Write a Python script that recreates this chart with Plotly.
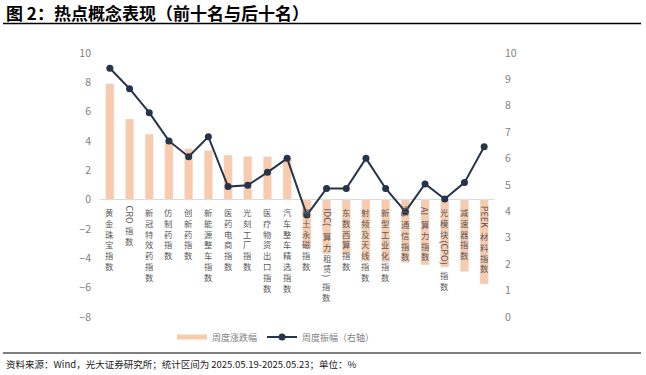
import plotly.graph_objects as go

categories = ["黄金珠宝指数", "CRO指数", "新冠特效药指数", "仿制药指数", "创新药指数",
              "新能源整车指数", "医药电商指数", "光刻工厂指数", "医疗物资出口指数", "汽车整车精选指数",
              "稀土永磁指数", "IDC(算力租赁)指数", "东数西算指数", "射频及天线指数", "新型工业化指数",
              "5G通信指数", "AI算力指数", "光模块(CPO)指数", "减速器指数", "PEEK材料指数"]
weekly_change = [7.9, 5.5, 4.47, 4.08, 3.47, 3.35, 3.04, 2.95, 2.93, 2.88,
                 -3.3, -3.7, -3.75, -4.2, -4.25, -4.3, -4.45, -4.6, -4.9, -5.75]
weekly_amplitude = [9.42, 8.65, 7.74, 6.67, 6.07, 6.83, 4.94, 4.99, 5.48, 6.01,
                    3.86, 4.87, 4.87, 6.01, 4.87, 3.99, 5.04, 4.47, 5.09, 6.45]
left_ticks = [10, 8, 6, 4, 2, 0, -2, -4, -6, -8]
right_ticks = [10, 9, 8, 7, 6, 5, 4, 3, 2, 1, 0]

BAR = "#F8CBAD"
LINE = "#253448"
FONT = "Noto Sans CJK SC"
LABEL_COLOR = "#595959"

W, H = 646, 375
mt, mb, ml, mr = 53, 58, 100, 152
ph = H - mt - mb
pw = W - ml - mr


def py(pix):
    return (H - mb - pix) / ph


def px(pix):
    return (pix - ml) / pw


fig = go.Figure()
fig.add_trace(go.Bar(x=categories, y=weekly_change, marker_color=BAR, width=0.42,
                     showlegend=False, name="周度涨跌幅"))
fig.add_trace(go.Scatter(x=[None], y=[None], mode="lines", line=dict(color=BAR, width=5),
                         name="周度涨跌幅"))
fig.add_trace(go.Scatter(x=categories, y=weekly_amplitude, yaxis="y2", mode="lines+markers",
                         line=dict(color=LINE, width=2), marker=dict(color=LINE, size=7),
                         name="周度振幅（右轴）"))


def runs(label):
    out, buf, kind = [], "", None
    for ch in label:
        k = ord(ch) < 128
        if kind is not None and k != kind:
            out.append((buf, kind))
            buf = ""
        buf += ch
        kind = k
    if buf:
        out.append((buf, kind))
    return out


CJK_SIZE = 8.3
CJK_STEP = CJK_SIZE * 1.3
LATIN_SIZE = 9
LATIN_STEP = 5.9

annotations = []
for cat in categories:
    cursor = 5.0
    for tok, latin in runs(cat):
        if latin:
            h = LATIN_STEP * len(tok) + 1
            annotations.append(dict(x=cat, y=0, xref="x", yref="y", text=tok, showarrow=False,
                                    textangle=90, yanchor="middle", xanchor="center",
                                    yshift=-(cursor + h / 2), borderpad=0,
                                    font=dict(family=FONT, size=LATIN_SIZE, color=LABEL_COLOR)))
        else:
            h = CJK_STEP * len(tok)
            annotations.append(dict(x=cat, y=0, xref="x", yref="y", text="<br>".join(tok),
                                    showarrow=False, yanchor="top", xanchor="center",
                                    yshift=-cursor, borderpad=0,
                                    font=dict(family=FONT, size=CJK_SIZE, color=LABEL_COLOR)))
        cursor += h

annotations.append(dict(x=px(4), y=py(12), xref="paper", yref="paper",
                        text="<b>图 2：热点概念表现（前十名与后十名）</b>",
                        showarrow=False, xanchor="left", yanchor="middle",
                        font=dict(family=FONT, size=17, color="#000000")))
annotations.append(dict(x=px(4), y=py(364), xref="paper", yref="paper",
                        text="资料来源：Wind，光大证券研究所；统计区间为 2025.05.19-2025.05.23；单位：%",
                        showarrow=False, xanchor="left", yanchor="middle",
                        font=dict(family=FONT, size=9.5, color="#222222")))
fig.update_layout(annotations=annotations)

fig.add_shape(type="line", xref="paper", yref="paper", x0=px(3), x1=px(641), y0=py(23.5), y1=py(23.5),
              line=dict(color="#000000", width=1.5))
fig.add_shape(type="line", xref="paper", yref="paper", x0=px(3), x1=px(641), y0=py(353), y1=py(353),
              line=dict(color="#000000", width=1.2))

fig.update_layout(
    width=W, height=H,
    margin=dict(l=ml, r=mr, t=mt, b=mb),
    paper_bgcolor="white", plot_bgcolor="white",
    font=dict(family=FONT, size=10, color="#7f7f7f"),
    xaxis=dict(showticklabels=False, showgrid=False, showline=False, zeroline=False,
               range=[-0.5, len(categories) - 0.5], fixedrange=True),
    yaxis=dict(range=[-8, 10], tickvals=left_ticks, showgrid=False, showline=False,
               zeroline=True, zerolinecolor="#d9d9d9", zerolinewidth=1,
               ticks="", ticklabelstandoff=8, tickfont=dict(size=10.5, color="#7f7f7f")),
    yaxis2=dict(range=[0, 10], tickvals=right_ticks, overlaying="y", side="right",
                showgrid=False, showline=False, zeroline=False, ticks="",
                ticklabelstandoff=10, tickfont=dict(size=10.5, color="#7f7f7f")),
    legend=dict(orientation="h", x=px(172), y=py(337), xanchor="left", yanchor="middle",
                font=dict(family=FONT, size=9, color="#7f7f7f"), bgcolor="rgba(0,0,0,0)",
                itemwidth=30, tracegroupgap=0),
)

fig.write_html("out.html", config={"displayModeBar": False},
               post_script="document.body.style.margin='0';document.body.style.overflow='hidden';")
